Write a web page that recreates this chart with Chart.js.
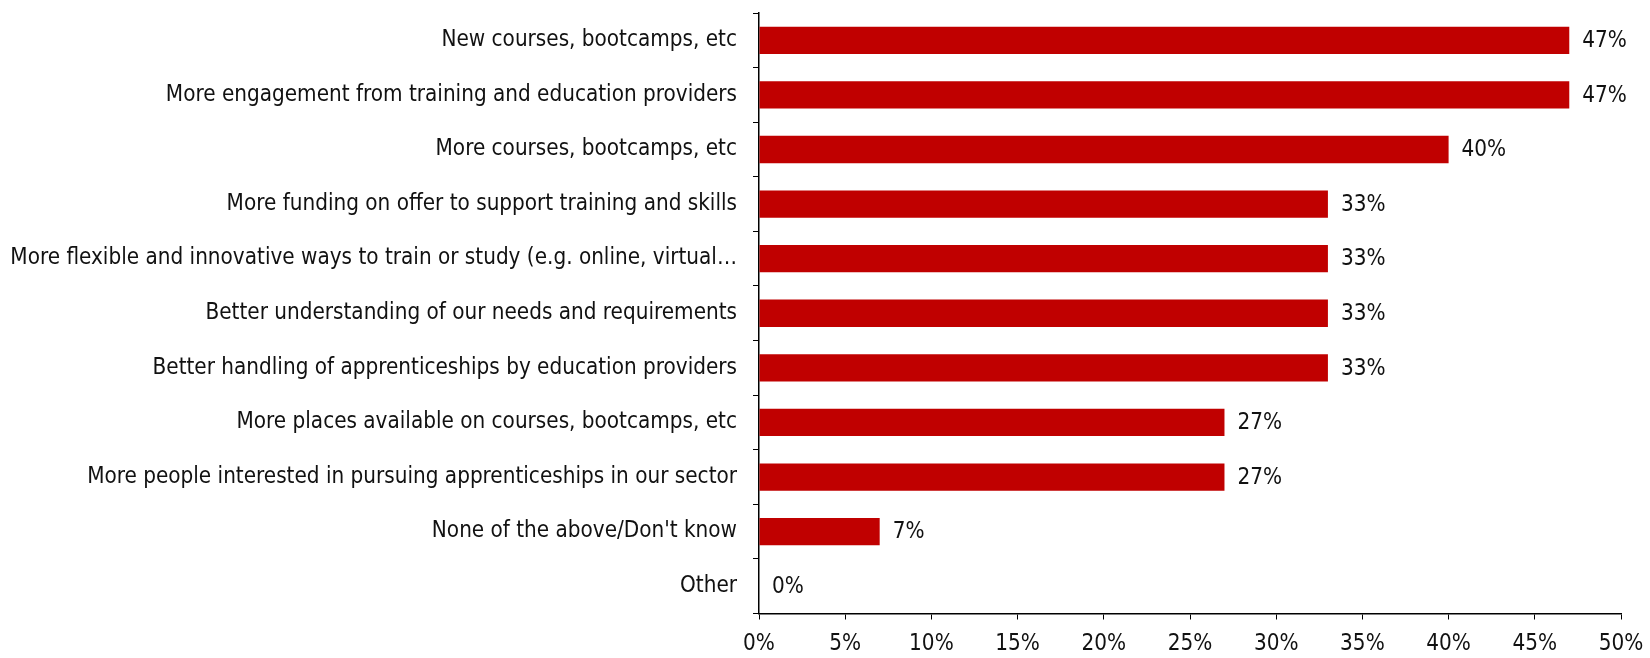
<!DOCTYPE html>
<html><head><meta charset="utf-8">
<script src="https://cdn.jsdelivr.net/npm/chart.js@4"></script>
<style>html,body{margin:0;padding:0;background:#fff}#wrap{width:1650px;height:658px}</style>
</head><body><div id="wrap"><canvas id="c" width="1650" height="658"></canvas></div>
<script>
const categories = [
  "New courses, bootcamps, etc",
  "More engagement from training and education providers",
  "More courses, bootcamps, etc",
  "More funding on offer to support training and skills",
  "More flexible and innovative ways to train or study (e.g. online, virtual\u2026",
  "Better understanding of our needs and requirements",
  "Better handling of apprenticeships by education providers",
  "More places available on courses, bootcamps, etc",
  "More people interested in pursuing apprenticeships in our sector",
  "None of the above/Don't know",
  "Other"
];
const values = [47, 47, 40, 33, 33, 33, 33, 27, 27, 7, 0];
const xTicks = [0, 5, 10, 15, 20, 25, 30, 35, 40, 45, 50];

const FONT = "'DejaVu Sans Condensed', 'Liberation Sans', sans-serif";
const FS = 22.3;

const valueLabels = {
  id: 'valueLabels',
  afterDatasetsDraw(chart) {
    const ctx = chart.ctx;
    const meta = chart.getDatasetMeta(0);
    ctx.save();
    ctx.font = FS + "px " + FONT;
    ctx.fillStyle = "#111";
    ctx.textAlign = "left";
    ctx.textBaseline = "middle";
    meta.data.forEach((bar, i) => {
      ctx.fillText(values[i] + "%", bar.x + 13, bar.y + 1);
    });
    ctx.restore();
  }
};

new Chart(document.getElementById('c'), {
  type: 'bar',
  data: {
    labels: categories,
    datasets: [{
      data: values,
      backgroundColor: '#C00000',
      borderWidth: 0,
      categoryPercentage: 1.0,
      barPercentage: 0.5
    }]
  },
  options: {
    indexAxis: 'y',
    responsive: false,
    animation: false,
    layout: { padding: { top: 13, right: 29, left: 0, bottom: 0 } },
    plugins: { legend: { display: false }, tooltip: { enabled: false } },
    scales: {
      x: {
        min: 0, max: 50,
        afterBuildTicks(scale) { scale.ticks = xTicks.map(v => ({ value: v })); },
        afterFit(scale) { scale.height = 44.5; scale.paddingLeft = 0; scale.paddingRight = 0; },
        ticks: {
          callback: v => v + '%',
          font: { size: FS, family: FONT },
          color: '#111',
          padding: 11,
          maxRotation: 0
        },
        grid: { display: true, drawOnChartArea: false, drawTicks: true, tickLength: 6, color: '#000' },
        border: { display: true, color: '#000', width: 1.5 }
      },
      y: {
        afterFit(scale) { scale.width = 759; scale.paddingTop = 0; scale.paddingBottom = 0; },
        ticks: {
          font: { size: FS, family: FONT },
          color: '#111',
          padding: 16,
          autoSkip: false
        },
        grid: { display: true, drawOnChartArea: false, drawTicks: true, tickLength: 6, color: '#000', offset: true },
        border: { display: true, color: '#000', width: 1.5 }
      }
    }
  },
  plugins: [valueLabels]
});
</script></body></html>
